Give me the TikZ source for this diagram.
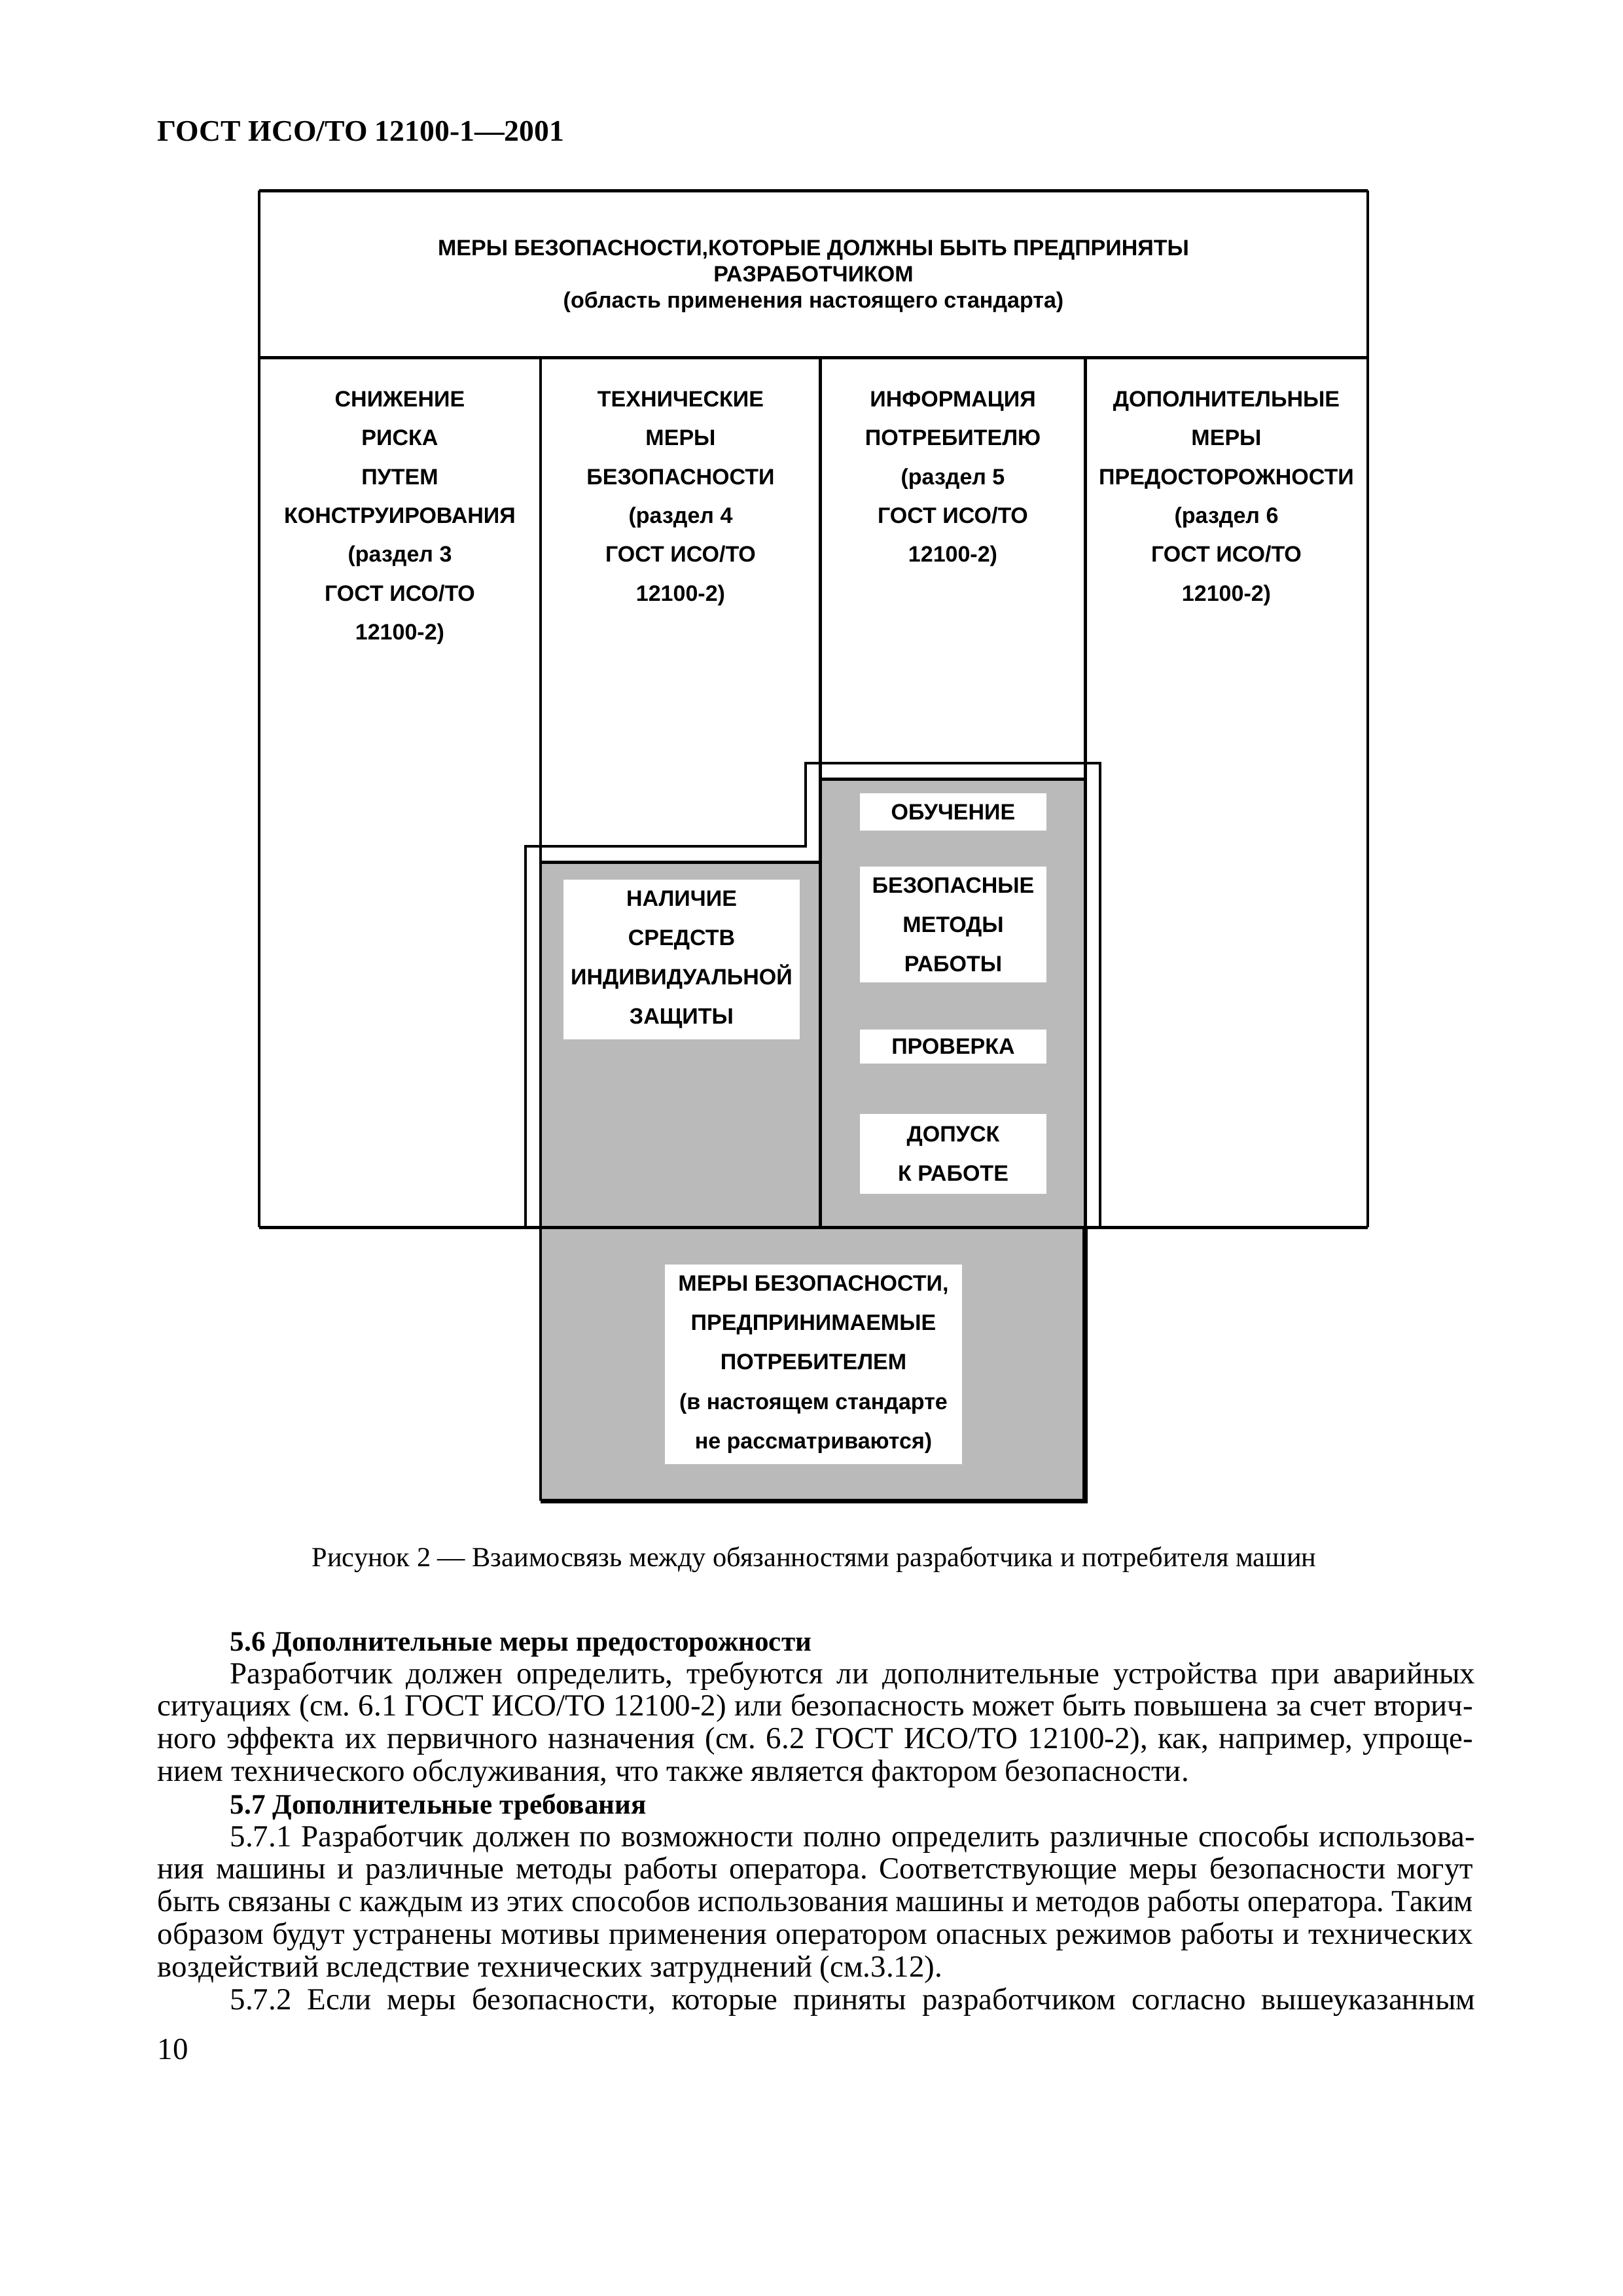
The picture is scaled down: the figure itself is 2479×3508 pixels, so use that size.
\documentclass[tikz,border=0pt]{standalone}
\usepackage{fontspec}
\usepackage{graphicx}
\setmainfont{Liberation Serif}
\newfontfamily\diagfont{Liberation Sans}
\frenchspacing
\newlength\px \setlength\px{0.24103pt}
\newlength\bodyW \setlength\bodyW{484.5pt}
\newlength\indW \setlength\indW{458.5pt}
\newcommand\jline[2]{\setbox0\hbox{#2}\ifdim\wd0>#1\resizebox{#1}{\height}{\box0}\else\makebox[#1][s]{#2}\fi}
\newcommand\headbf[1]{{\bfseries\fontsize{10.4}{13}\selectfont #1}}
\tikzset{
  diag/.style={font=\diagfont\bfseries\fontsize{8.2}{14.3}\selectfont, align=center, inner sep=0pt},
  wbox/.style={diag, fill=white, font=\diagfont\bfseries\fontsize{8.2}{14.5}\selectfont},
  bodyl/.style={anchor=base west, inner sep=0pt, font=\frenchspacing\fontsize{11.3}{13}\selectfont},
  thick line/.style={line width=1.2pt},
  med line/.style={line width=0.75pt},
  greyfill/.style={fill=black!27},
}
\begin{document}
\begin{tikzpicture}[x=0.24103pt, y=-0.24103pt]
\fill[white] (0,0) rectangle (2479,3508);
\useasboundingbox (0,0) rectangle (2479,3508);

% page header
\node[anchor=base west, inner sep=0pt, font=\bfseries\fontsize{11}{13}\selectfont] (gost) at (240,215) {ГОСТ ИСО/ТО 12100-1—2001};

% grey region
\fill[greyfill] (826,1317) -- (1253,1317) -- (1253,1190) -- (1658,1190) -- (1658,2293) -- (826,2293) -- cycle;

% outer box
\draw[med line] (396,291) -- (396,1875);
\draw[med line] (2090,291) -- (2090,1875);
\draw[thick line] (396,291) -- (2090,291);
\draw[thick line] (396,546) -- (2090,546);
\draw[thick line] (396,1875) -- (2090,1875);
% column dividers
\draw[med line] (826,546) -- (826,2293);
\draw[thick line] (1253,546) -- (1253,1875);
\draw[thick line] (1658,546) -- (1658,1875);
% grey tops
\draw[thick line] (826,1317) -- (1253,1317);
\draw[thick line] (1253,1190) -- (1658,1190);
% step outline
\draw[line width=1.1pt] (803,1875) -- (803,1293) -- (1231,1293) -- (1231,1166) -- (1681,1166) -- (1681,1875);
% bottom box shadowed edges
\draw[line width=1.7pt] (1658,1875) -- (1658,2293) -- (826,2293);

% header text
\node[diag, font=\diagfont\bfseries\fontsize{8.2}{9.6}\selectfont, anchor=north] (hdr) at (1243,366)
  {МЕРЫ БЕЗОПАСНОСТИ,КОТОРЫЕ ДОЛЖНЫ БЫТЬ ПРЕДПРИНЯТЫ\\РАЗРАБОТЧИКОМ\\(область применения настоящего стандарта)};

% column texts
\node[diag, anchor=north] (c1) at (611,597)
  {СНИЖЕНИЕ\\РИСКА\\ПУТЕМ\\КОНСТРУИРОВАНИЯ\\(раздел 3\\ГОСТ ИСО/ТО\\12100-2)};
\node[diag, anchor=north] (c2) at (1040,597)
  {ТЕХНИЧЕСКИЕ\\МЕРЫ\\БЕЗОПАСНОСТИ\\(раздел 4\\ГОСТ ИСО/ТО\\12100-2)};
\node[diag, anchor=north] (c3) at (1456,597)
  {ИНФОРМАЦИЯ\\ПОТРЕБИТЕЛЮ\\(раздел 5\\ГОСТ ИСО/ТО\\12100-2)};
\node[diag, anchor=north] (c4) at (1874,597)
  {ДОПОЛНИТЕЛЬНЫЕ\\МЕРЫ\\ПРЕДОСТОРОЖНОСТИ\\(раздел 6\\ГОСТ ИСО/ТО\\12100-2)};

% white boxes
\node[wbox, minimum width=285*\px, minimum height=57*\px] (obuch) at (1456.5,1240.5) {ОБУЧЕНИЕ};
\node[wbox, minimum width=285*\px, minimum height=177*\px] (metod) at (1456.5,1412.5) {БЕЗОПАСНЫЕ\\МЕТОДЫ\\РАБОТЫ};
\node[wbox, minimum width=285*\px, minimum height=52*\px] (prov) at (1456.5,1599) {ПРОВЕРКА};
\node[wbox, minimum width=285*\px, minimum height=122*\px] (dop) at (1456.5,1763) {ДОПУСК\\К РАБОТЕ};
\node[wbox, minimum width=361*\px, minimum height=244*\px] (nal) at (1041.5,1466) {НАЛИЧИЕ\\СРЕДСТВ\\ИНДИВИДУАЛЬНОЙ\\ЗАЩИТЫ};
\node[wbox, minimum width=454*\px, minimum height=305*\px] (potr) at (1243,2084.5)
  {МЕРЫ БЕЗОПАСНОСТИ,\\ПРЕДПРИНИМАЕМЫЕ\\ПОТРЕБИТЕЛЕМ\\(в настоящем стандарте\\не рассматриваются)};

% caption
\node[anchor=base, inner sep=0pt, font=\fontsize{10.2}{12}\selectfont] (cap) at (1244,2393)
  {Рисунок 2 — Взаимосвязь между обязанностями разработчика и потребителя машин};

% body text
\node[bodyl] (b1) at (351,2522) {\headbf{5.6 Дополнительные меры предосторожности}};
\node[bodyl] (b2) at (351,2572) {\jline{\indW}{Разработчик должен определить, требуются ли дополнительные устройства при аварийных}};
\node[bodyl] (b3) at (240,2621) {\jline{\bodyW}{ситуациях (см. 6.1 ГОСТ ИСО/ТО 12100-2) или безопасность может быть повышена за счет вторич-}};
\node[bodyl] (b4) at (240,2671) {\jline{\bodyW}{ного эффекта их первичного назначения (см. 6.2 ГОСТ ИСО/ТО 12100-2), как, например, упроще-}};
\node[bodyl] (b5) at (240,2721) {нием технического обслуживания, что также является фактором безопасности.};
\node[bodyl] (b6) at (351,2771) {\headbf{5.7 Дополнительные требования}};
\node[bodyl] (b7) at (351,2821) {\jline{\indW}{5.7.1 Разработчик должен по возможности полно определить различные способы использова-}};
\node[bodyl] (b8) at (240,2870) {\jline{\bodyW}{ния машины и различные методы работы оператора. Соответствующие меры безопасности могут}};
\node[bodyl] (b9) at (240,2920) {\jline{\bodyW}{быть связаны с каждым из этих способов использования машины и методов работы оператора. Таким}};
\node[bodyl] (b10) at (240,2970) {\jline{\bodyW}{образом будут устранены мотивы применения оператором опасных режимов работы и технических}};
\node[bodyl] (b11) at (240,3020) {воздействий вследствие технических затруднений (см.3.12).};
\node[bodyl] (b12) at (351,3070) {\jline{\indW}{5.7.2 Если меры безопасности, которые приняты разработчиком согласно вышеуказанным}};

% page number
\node[bodyl] (pg) at (240,3146) {10};
\end{tikzpicture}
\end{document}
